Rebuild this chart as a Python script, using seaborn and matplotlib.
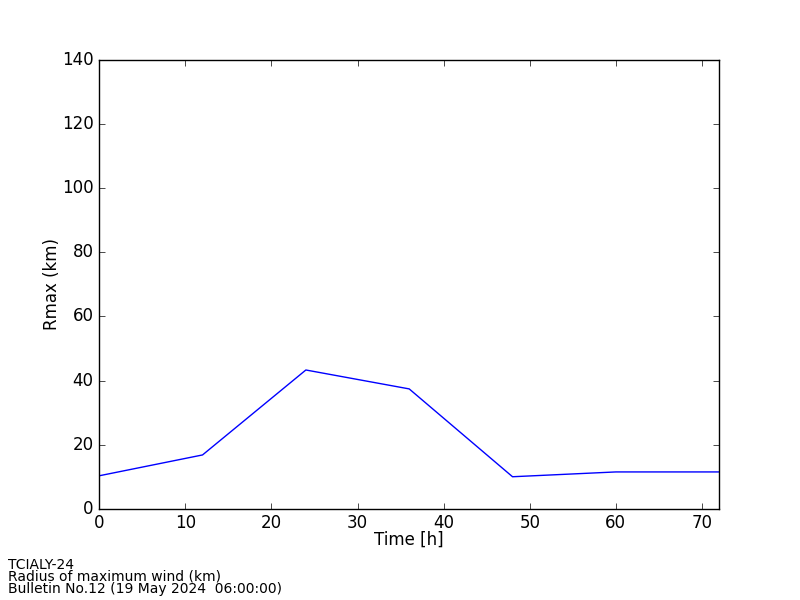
import matplotlib
matplotlib.use("Agg")
import matplotlib.pyplot as plt
import seaborn as sns
import pandas as pd

time_h = [0, 12, 24, 36, 48, 60, 72]
rmax_km = [10.3, 16.8, 43.3, 37.4, 10.0, 11.5, 11.5]
footer_lines = ["TCIALY-24", "Radius of maximum wind (km)", "Bulletin No.12 (19 May 2024  06:00:00)"]

plt.style.use("classic")
plt.rcParams["font.family"] = ["DejaVu Sans"]

df = pd.DataFrame({"time": time_h, "rmax": rmax_km})

fig = plt.figure(figsize=(8, 6), dpi=100, facecolor="white")
ax = fig.add_axes([0.124, 0.152, 0.775, 0.748])
sns.lineplot(data=df, x="time", y="rmax", ax=ax, color="blue", linewidth=1.0)
ax.set_xlim(0, 72)
ax.set_ylim(0, 140)
ax.set_xticks([0, 10, 20, 30, 40, 50, 60, 70])
ax.set_yticks(range(0, 141, 20))
ax.set_xlabel("Time [h]", fontsize=12, labelpad=-1)
ax.set_ylabel("Rmax (km)", fontsize=12, labelpad=1)
ax.tick_params(labelsize=12, direction="in", top=True, right=True)

fig.text(0.01, 1 - 577 / 600, "\n".join(footer_lines), fontsize=10,
         va="center", ha="left", linespacing=0.85)

fig.savefig("out.png", dpi=100, facecolor="white")
